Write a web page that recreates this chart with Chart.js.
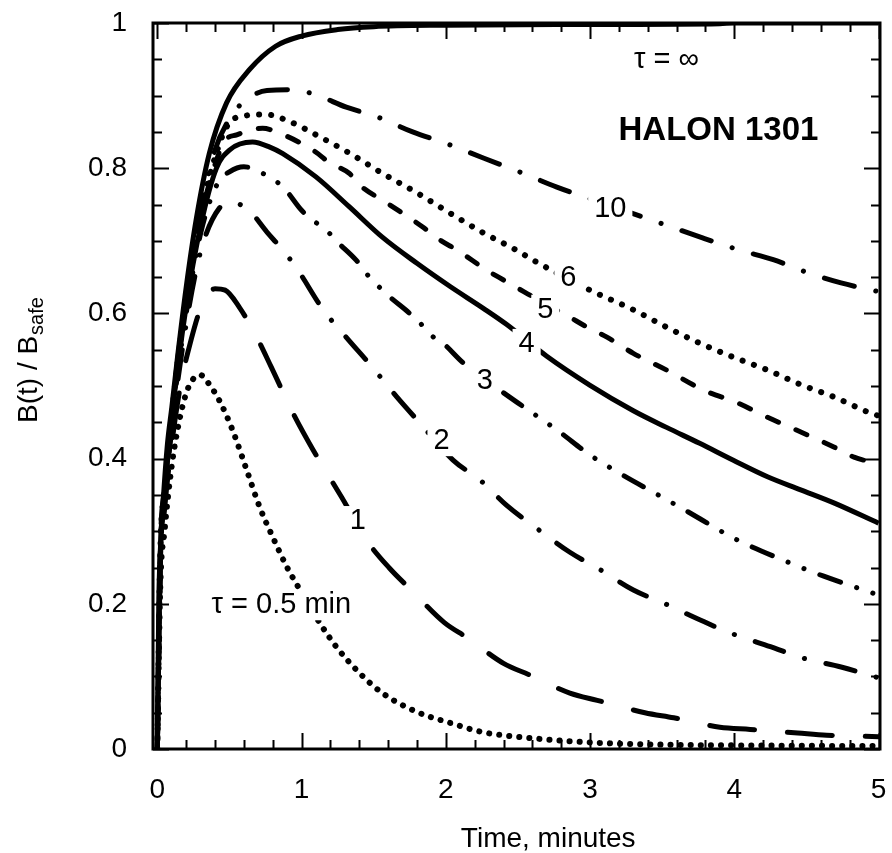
<!DOCTYPE html>
<html>
<head>
<meta charset="utf-8">
<script src="https://cdn.jsdelivr.net/npm/chart.js@4.4.1/dist/chart.umd.min.js"></script>
<style>
  html, body { margin: 0; padding: 0; background: #fff; }
</style>
</head>
<body>
<canvas id="myChart" width="892" height="853"></canvas>
<script>
const ctx = document.getElementById('myChart');

// time in minutes / B(t)/Bsafe for each tau
const tInf = [0, 0.01, 0.02, 0.04, 0.07, 0.1, 0.14, 0.2, 0.27, 0.36, 0.48, 0.64, 0.82, 1, 1.25, 1.5, 2, 3, 3.9, 4, 5];
const bInf = [0, 0.2, 0.27, 0.34, 0.42, 0.47, 0.54, 0.636, 0.73, 0.82, 0.89, 0.936, 0.968, 0.982, 0.991, 0.995, 0.997, 0.998, 0.999, 1, 1];

const t10 = [0, 0.02, 0.05, 0.1, 0.2, 0.3, 0.4, 0.5, 0.59, 0.76, 0.94, 1.1, 1.31, 1.52, 1.77, 2.03, 2.26, 2.51, 2.77, 3.1, 3.42, 3.78, 4.04, 4.27, 4.51, 4.74, 5];
const b10 = [0, 0.27, 0.36, 0.465, 0.625, 0.74, 0.825, 0.868, 0.89, 0.907, 0.908, 0.901, 0.884, 0.871, 0.85, 0.832, 0.814, 0.795, 0.774, 0.751, 0.729, 0.704, 0.687, 0.674, 0.656, 0.642, 0.63];

const t6 = [0, 0.02, 0.05, 0.1, 0.2, 0.3, 0.4, 0.49, 0.6, 0.75, 0.92, 1.1, 1.33, 1.56, 1.8, 2.03, 2.26, 2.49, 2.6, 3, 3.3, 3.53, 3.76, 3.99, 4.23, 4.46, 4.69, 4.94, 5];
const b6 = [0, 0.265, 0.355, 0.46, 0.62, 0.735, 0.815, 0.86, 0.872, 0.874, 0.864, 0.846, 0.821, 0.793, 0.766, 0.738, 0.711, 0.687, 0.674, 0.632, 0.605, 0.581, 0.559, 0.54, 0.522, 0.502, 0.485, 0.463, 0.459];

const t5 = [0, 0.02, 0.05, 0.1, 0.2, 0.3, 0.4, 0.47, 0.55, 0.73, 0.85, 0.99, 1.1, 1.19, 1.33, 1.42, 1.56, 1.7, 1.84, 1.96, 2.08, 2.28, 2.4, 2.54, 2.7, 2.84, 2.98, 3.12, 3.3, 3.53, 3.79, 4.02, 4.23, 4.48, 4.69, 4.83, 5];
const b5 = [0, 0.26, 0.35, 0.46, 0.615, 0.73, 0.805, 0.838, 0.846, 0.855, 0.848, 0.835, 0.822, 0.808, 0.793, 0.774, 0.756, 0.738, 0.719, 0.701, 0.687, 0.66, 0.646, 0.63, 0.612, 0.597, 0.581, 0.567, 0.545, 0.522, 0.494, 0.477, 0.457, 0.435, 0.416, 0.402, 0.393];

const t4 = [0, 0.02, 0.05, 0.1, 0.2, 0.3, 0.41, 0.5, 0.66, 0.78, 0.87, 1.1, 1.33, 1.56, 1.8, 2.03, 2.26, 2.42, 2.7, 3, 3.3, 3.53, 3.76, 3.99, 4.23, 4.46, 4.69, 5];
const b4 = [0, 0.26, 0.35, 0.455, 0.61, 0.72, 0.8, 0.825, 0.836, 0.829, 0.82, 0.788, 0.747, 0.705, 0.669, 0.637, 0.607, 0.585, 0.541, 0.501, 0.466, 0.443, 0.421, 0.398, 0.375, 0.357, 0.339, 0.311];

const t3 = [0, 0.02, 0.05, 0.1, 0.2, 0.3, 0.42, 0.5, 0.6, 0.73, 0.83, 0.89, 1, 1.08, 1.17, 1.24, 1.38, 1.47, 1.54, 1.61, 1.75, 1.82, 1.91, 1.98, 2.12, 2.44, 2.6, 2.78, 3, 3.22, 3.49, 3.72, 4, 4.34, 4.62, 5];
const b3 = [0, 0.26, 0.345, 0.45, 0.6, 0.71, 0.78, 0.795, 0.802, 0.793, 0.781, 0.77, 0.742, 0.728, 0.715, 0.7, 0.673, 0.65, 0.636, 0.623, 0.6, 0.587, 0.568, 0.559, 0.532, 0.485, 0.463, 0.438, 0.405, 0.378, 0.348, 0.322, 0.29, 0.26, 0.238, 0.212];

const t2 = [0, 0.02, 0.05, 0.1, 0.2, 0.3, 0.43, 0.51, 0.62, 0.76, 0.87, 0.96, 1.15, 1.31, 1.49, 1.66, 1.82, 2.05, 2.24, 2.42, 2.63, 2.86, 3.07, 3.3, 3.51, 3.76, 3.97, 4.25, 4.48, 4.74, 5];
const b2 = [0, 0.255, 0.34, 0.44, 0.585, 0.685, 0.745, 0.752, 0.745, 0.712, 0.687, 0.664, 0.605, 0.567, 0.526, 0.485, 0.449, 0.398, 0.37, 0.336, 0.304, 0.271, 0.247, 0.219, 0.201, 0.178, 0.16, 0.141, 0.125, 0.113, 0.098];

const t1 = [0, 0.02, 0.05, 0.1, 0.16, 0.22, 0.31, 0.4, 0.47, 0.57, 0.69, 0.79, 0.94, 1.08, 1.28, 1.46, 1.61, 1.76, 1.99, 2.15, 2.4, 2.58, 2.86, 3.05, 3.38, 3.58, 3.9, 4.11, 4.44, 4.64, 5];
const b1 = [0, 0.25, 0.33, 0.42, 0.5, 0.553, 0.612, 0.634, 0.632, 0.608, 0.567, 0.526, 0.463, 0.412, 0.346, 0.285, 0.249, 0.219, 0.174, 0.153, 0.118, 0.102, 0.077, 0.067, 0.05, 0.043, 0.03, 0.027, 0.022, 0.019, 0.017];

const t05 = [0, 0.02, 0.05, 0.1, 0.15, 0.2, 0.25, 0.3, 0.35, 0.43, 0.52, 0.62, 0.71, 0.8, 0.9, 0.96, 1.125, 1.24, 1.4, 1.56, 1.8, 2.03, 2.26, 2.49, 3, 3.5, 4, 5];
const b05 = [0, 0.22, 0.3, 0.39, 0.45, 0.49, 0.51, 0.515, 0.505, 0.48, 0.44, 0.384, 0.333, 0.292, 0.25, 0.229, 0.174, 0.141, 0.105, 0.077, 0.051, 0.036, 0.023, 0.017, 0.009, 0.006, 0.005, 0.004];

const xTicks = [0, 1, 2, 3, 4, 5];
const yTicks = [0, 0.2, 0.4, 0.6, 0.8, 1];

// curve labels: text, t, B
const curveLabels = [
  ['\u03C4 = \u221E', 3.53, 0.949],
  ['10', 3.14, 0.744],
  ['6', 2.85, 0.649],
  ['5', 2.69, 0.605],
  ['4', 2.56, 0.558],
  ['3', 2.27, 0.507],
  ['2', 1.97, 0.424],
  ['1', 1.39, 0.314],
  ['\u03C4 = 0.5 min', 0.86, 0.198]
];

const FONT = '"Liberation Sans", Arial, Helvetica, sans-serif';

function pts(t, b) {
  return t.map((v, i) => ({ x: v, y: b[i] }));
}

function line(label, t, b, dash, width) {
  return {
    label: label,
    data: pts(t, b),
    borderColor: '#000',
    borderWidth: width || 5,
    borderDash: dash,
    borderCapStyle: dash.length ? 'round' : 'butt',
    pointRadius: 0,
    fill: false,
    cubicInterpolationMode: 'monotone'
  };
}

function noPad(s) {
  s.paddingLeft = 0; s.paddingRight = 0; s.paddingTop = 0; s.paddingBottom = 0;
}

const framePlugin = {
  id: 'frame',
  afterDatasetsDraw(chart) {
    const c = chart.ctx;
    const a = chart.chartArea;
    const xs = chart.scales.x;
    const ys = chart.scales.y;
    c.save();

    // labels on white patches
    c.font = '29px ' + FONT;
    c.textAlign = 'center';
    c.textBaseline = 'middle';
    curveLabels.forEach(([txt, t, b]) => {
      const px = xs.getPixelForValue(t);
      const py = ys.getPixelForValue(b);
      const w = c.measureText(txt).width;
      c.fillStyle = '#fff';
      c.fillRect(px - w / 2 - 6, py - 15, w + 12, 30);
      c.fillStyle = '#000';
      c.fillText(txt, px, py);
    });
    c.font = 'bold 33px ' + FONT;
    c.fillText('HALON 1301', xs.getPixelForValue(3.89), ys.getPixelForValue(0.851));

    // box
    c.strokeStyle = '#000';
    c.lineWidth = 3;
    c.strokeRect(a.left, a.top, a.right - a.left, a.bottom - a.top);

    // inward ticks on all sides
    c.lineWidth = 2;
    c.beginPath();
    for (let i = 0; i <= 25; i++) {
      const v = i * 0.2;
      const len = i % 5 === 0 ? 16 : 9;
      const px = Math.round(xs.getPixelForValue(v)) + 0.5;
      c.moveTo(px, a.bottom); c.lineTo(px, a.bottom - len);
      c.moveTo(px, a.top); c.lineTo(px, a.top + len);
    }
    for (let i = 0; i <= 20; i++) {
      const v = i * 0.05;
      const len = i % 4 === 0 ? 16 : 9;
      const py = Math.round(ys.getPixelForValue(v)) + 0.5;
      c.moveTo(a.left, py); c.lineTo(a.left + len, py);
      c.moveTo(a.right, py); c.lineTo(a.right - len, py);
    }
    c.stroke();

    // axis titles
    c.fillStyle = '#000';
    c.font = '28px ' + FONT;
    c.textAlign = 'center';
    c.textBaseline = 'alphabetic';
    c.fillText('Time, minutes', xs.getPixelForValue(2.71), 847);

    c.translate(37, 423);
    c.rotate(-Math.PI / 2);
    c.textAlign = 'left';
    const main = 'B(t) / B';
    c.fillText(main, 0, 0);
    const mw = c.measureText(main).width;
    c.font = '20px ' + FONT;
    c.fillText('safe', mw + 1, 6);
    c.restore();
  }
};

const myChart = new Chart(ctx, {
  type: 'line',
  data: {
    datasets: [
      line('\u03C4 = \u221E', tInf, bInf, [], 5),
      line('10', t10, b10, [31, 22, 0.1, 22], 5),
      line('6', t6, b6, [0.1, 12], 6),
      line('5', t5, b5, [12, 19], 5),
      line('4', t4, b4, [], 5),
      line('3', t3, b3, [22, 17, 0.1, 17, 0.1, 17], 5),
      line('2', t2, b2, [30, 22, 0.1, 22], 5),
      line('1', t1, b1, [45, 33], 5),
      line('0.5', t05, b05, [0.1, 10], 6)
    ]
  },
  options: {
    responsive: false,
    animation: false,
    layout: { padding: { left: 0, top: 23, right: 12, bottom: 0 } },
    plugins: { legend: { display: false }, tooltip: { enabled: false } },
    scales: {
      x: {
        type: 'linear',
        min: -0.03,
        max: 5.01,
        afterBuildTicks: (s) => { s.ticks = xTicks.map(v => ({ value: v })); },
        afterFit: (s) => { s.height = 104; noPad(s); },
        grid: { display: false, drawTicks: false },
        border: { display: false },
        ticks: { padding: 24, color: '#000', font: { family: FONT, size: 28 }, maxRotation: 0, callback: (v) => String(v) }
      },
      y: {
        type: 'linear',
        min: 0,
        max: 1,
        afterBuildTicks: (s) => { s.ticks = yTicks.map(v => ({ value: v })); },
        afterFit: (s) => { s.width = 153; noPad(s); },
        grid: { display: false, drawTicks: false },
        border: { display: false },
        ticks: { padding: 26, color: '#000', font: { family: FONT, size: 28 }, callback: (v) => String(v) }
      }
    }
  },
  plugins: [framePlugin]
});
</script>
</body>
</html>
